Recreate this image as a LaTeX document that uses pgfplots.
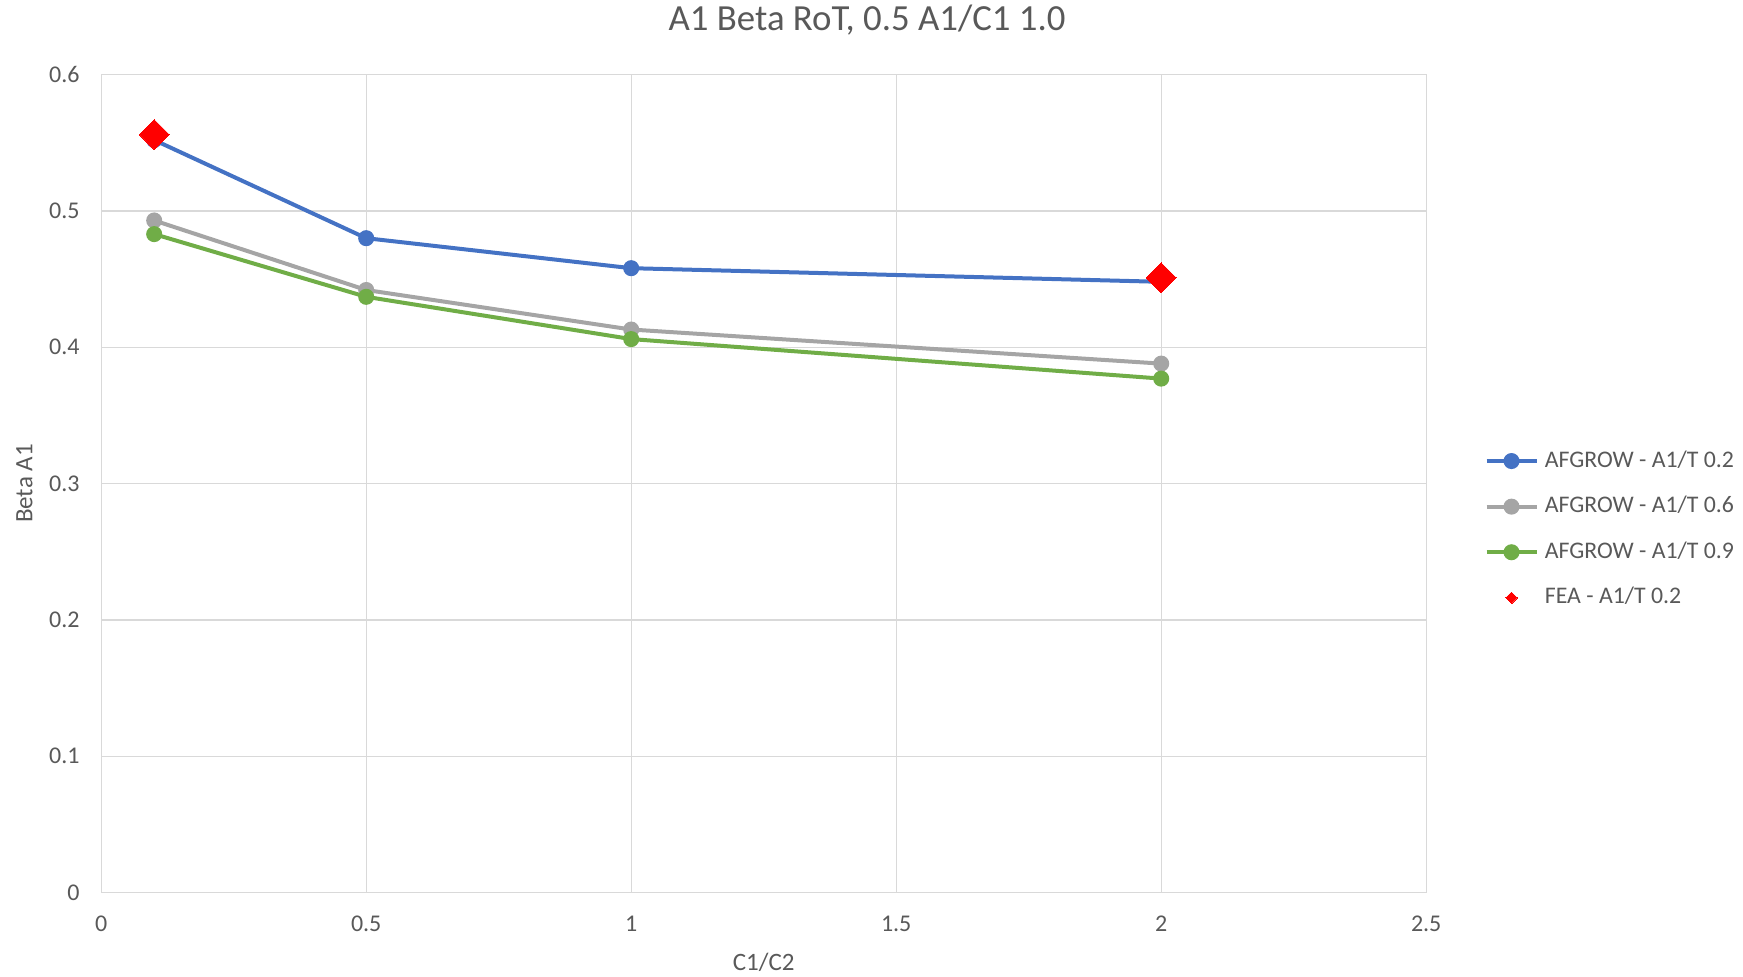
\documentclass[border=0pt]{standalone}
\usepackage{fontspec}
\setmainfont{Carlito}
\usepackage{pgfplots}
\pgfplotsset{compat=1.18}

\definecolor{cblue}{HTML}{4472C4}
\definecolor{cgray}{HTML}{A5A5A5}
\definecolor{cgreen}{HTML}{70AD47}
\definecolor{cred}{HTML}{FF0000}
\definecolor{ctext}{HTML}{595959}
\definecolor{cgrid}{HTML}{D9D9D9}

\begin{document}
\begin{tikzpicture}
\begin{axis}[
  at={(0,0)}, anchor=origin,
  scale only axis,
  width=662.5pt, height=409pt,
  xmin=0, xmax=2.5, ymin=0, ymax=0.6,
  xtick={0,0.5,1,1.5,2,2.5},
  ytick={0,0.1,0.2,0.3,0.4,0.5,0.6},
  yticklabel style={/pgf/number format/fixed, /pgf/number format/precision=1},
  xticklabel style={/pgf/number format/fixed},
  /pgf/number format/assume math mode=true,
  grid=major,
  major grid style={cgrid, line width=0.6pt},
  axis line style={cgrid, line width=0.6pt},
  major tick length=0pt,
  tick label style={font=\fontsize{12}{14}\selectfont, text=ctext, inner sep=0pt},
  xticklabel shift=11.5pt,
  yticklabel shift=10.6pt,
  title={A1 Beta RoT, 0.5 A1/C1 1.0},
  title style={font=\fontsize{18.4}{22}\selectfont, text=ctext, at={(0.578,1)}, anchor=center, yshift=21.5pt},
  xlabel={C1/C2},
  xlabel style={font=\fontsize{12.5}{15}\selectfont, text=ctext, at={(0.5,0)}, anchor=center, yshift=-35pt},
  ylabel={Beta A1},
  ylabel style={font=\fontsize{12.5}{15}\selectfont, text=ctext, at={(-0.058,0.5)}, anchor=center},
  legend cell align=left,
  legend style={draw=none, fill=none, inner sep=0pt, at={(1.0437,0.5415)}, anchor=north west,
    font=\fontsize{11.9}{14}\selectfont, text=ctext,
    nodes={inner sep=0pt, text height=8.5pt, text depth=2.5pt},
    row sep=11.8pt, column sep=3.2pt},
  every axis plot/.append style={line width=2pt},
]
\addplot[cblue, mark=*, mark size=3pt, mark options={solid},
  legend image code/.code={\draw[mark repeat=2,mark phase=2] plot coordinates {(0pt,0pt) (12.5pt,0pt) (25pt,0pt)};}]
  coordinates {(0.1,0.552) (0.5,0.480) (1,0.458) (2,0.448)};
\addlegendentry{AFGROW - A1/T 0.2}
\addplot[cgray, mark=*, mark size=3pt, mark options={solid},
  legend image code/.code={\draw[mark repeat=2,mark phase=2] plot coordinates {(0pt,0pt) (12.5pt,0pt) (25pt,0pt)};}]
  coordinates {(0.1,0.493) (0.5,0.442) (1,0.413) (2,0.388)};
\addlegendentry{AFGROW - A1/T 0.6}
\addplot[cgreen, mark=*, mark size=3pt, mark options={solid},
  legend image code/.code={\draw[mark repeat=2,mark phase=2] plot coordinates {(0pt,0pt) (12.5pt,0pt) (25pt,0pt)};}]
  coordinates {(0.1,0.483) (0.5,0.437) (1,0.406) (2,0.377)};
\addlegendentry{AFGROW - A1/T 0.9}
\addplot[only marks, mark=square*, mark size=5.3pt, mark options={rotate=45, fill=cred, draw=cred, line width=0pt},
  legend image code/.code={\draw[mark=square*, mark size=2pt, mark options={rotate=45, fill=cred, draw=cred, line width=0pt}] plot coordinates {(12.5pt,0pt)};}]
  coordinates {(0.1,0.556) (2,0.451)};
\addlegendentry{FEA - A1/T 0.2}
\end{axis}
\pgfresetboundingbox
\useasboundingbox (-50.6pt,-42.2pt) rectangle (820.9pt,446.3pt);
\end{tikzpicture}
\end{document}
